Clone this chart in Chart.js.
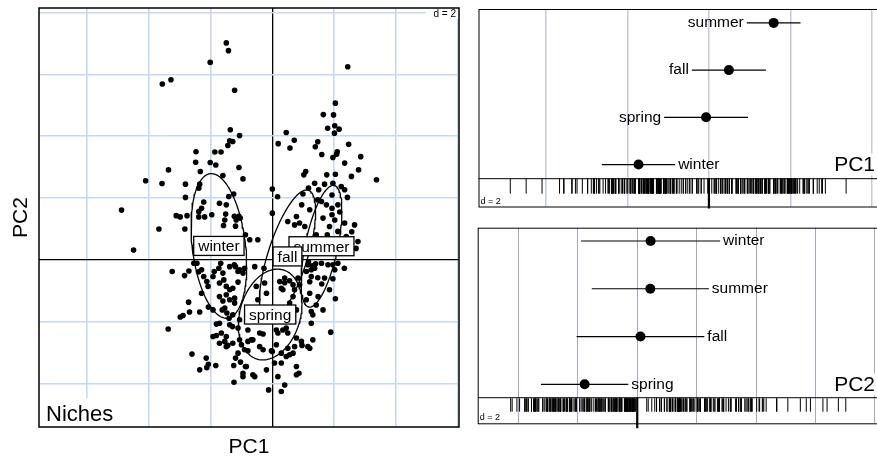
<!DOCTYPE html>
<html>
<head>
<meta charset="utf-8">
<script src="https://cdn.jsdelivr.net/npm/chart.js@4/dist/chart.umd.min.js"></script>
<style>
html,body{margin:0;padding:0;background:#fff;overflow:hidden;width:877px;height:460px}
canvas{position:absolute}
#niche{left:0;top:0}
#pc1{left:470px;top:0}
#pc2{left:470px;top:215px}
</style>
</head>
<body>
<canvas id="niche" width="470" height="460"></canvas>
<canvas id="pc1" width="440" height="215"></canvas>
<canvas id="pc2" width="440" height="245"></canvas>
<script>
// season classes: mean and sd on each axis, plus PC1/PC2 correlation (ellipses)
var seasons = ['winter', 'spring', 'summer', 'fall'];
var pc1Mean = [-1.73, -0.07, 1.59, 0.49];
var pc1Sd   = [0.90, 1.03, 0.66, 0.91];
var pc2Mean = [0.45, -1.77, 0.44, 0.11];
var pc2Sd   = [2.34, 1.47, 1.97, 2.15];
var pcCor   = [-0.27, 0.23, 0.58, 0.68];

// grid every d = 2
var nicheTicksX = [-6, -4, -2, 0, 2, 4, 6];
var nicheTicksY = [-4, -2, 0, 2, 4, 6, 8];
var pc1Ticks = [-4, -2, 0, 2, 4];
var pc2Ticks = [-4, -2, 0, 2, 4, 6, 8];

// row order in the 1d panels, bottom to top
var pc1Rows = ['winter', 'spring', 'fall', 'summer'];
var pc2Rows = ['spring', 'fall', 'summer', 'winter'];

// site scores (PC1, PC2)
var siteScores = [
 [-1.49,7.02],[-1.42,6.77],[-2.01,6.39],[-3.56,5.69],[-3.28,5.83],[-1.22,5.49],[-1.36,4.21],[-1.06,4.02],
 [-1.28,3.83],[-1.38,3.85],[-1.44,3.70],[-2.47,3.50],[-1.86,3.49],[-1.66,3.49],[2.44,6.25],[2.04,5.07],
 [1.65,4.70],[1.98,4.69],[1.79,4.26],[2.02,4.34],[2.16,4.23],[2.01,4.10],[0.45,4.12],[0.19,3.76],
 [0.71,3.87],[0.57,3.62],[1.47,3.82],[1.39,3.66],[2.47,3.74],[1.60,3.41],[2.10,3.50],[2.08,3.42],
 [1.96,3.31],[2.86,3.34],[-2.48,3.16],[-2.01,3.15],[-1.83,3.07],[-1.08,2.99],[-3.36,2.91],[-2.33,2.86],
 [-0.95,2.62],[-4.10,2.56],[-3.57,2.47],[-2.81,2.45],[-2.35,2.45],[-1.60,2.73],[-1.25,2.13],[-2.38,2.32],
 [-2.81,2.02],[-2.22,1.87],[-1.71,1.83],[-1.49,1.78],[-4.88,1.61],[-2.29,1.67],[-2.38,1.56],[-3.11,1.43],
 [-2.98,1.39],[-2.76,1.43],[-2.38,1.39],[-2.19,1.39],[-1.96,1.46],[-1.51,1.48],[-1.54,1.29],[-1.23,1.41],
 [-1.08,1.41],[-1.17,1.29],[-1.58,1.11],[-1.19,1.09],[-3.67,1.00],[-2.83,1.00],[-4.49,0.32],[-3.24,-0.38],
 [-2.70,-0.36],[-2.44,-0.11],[-2.29,-0.32],[-1.88,-0.38],[-1.73,-0.27],[-1.60,-0.43],[-1.23,-0.16],[-1.11,-0.38],
 [-0.95,-0.43],[2.34,3.13],[1.08,2.86],[1.02,2.75],[1.76,2.75],[2.04,2.77],[2.56,2.70],[2.79,2.91],
 [3.37,2.59],[1.37,2.48],[1.69,2.45],[1.96,2.48],[2.23,2.37],[0.00,2.29],[1.17,2.32],[1.50,2.27],
 [2.34,2.27],[0.17,2.04],[0.99,2.13],[1.93,2.10],[2.43,2.02],[1.59,1.89],[1.75,1.78],[1.93,1.67],
 [2.12,1.78],[0.78,1.40],[0.50,1.24],[0.72,1.13],[0.88,1.19],[1.05,1.08],[1.64,1.35],[1.93,1.46],
 [2.02,1.29],[2.34,1.19],[2.66,1.13],[1.85,1.08],[2.12,0.92],[1.78,0.81],[1.42,0.81],[-0.73,0.65],
 [-0.47,0.65],[2.39,0.75],[2.77,0.59],[1.15,-0.16],[1.26,-0.32],[1.10,-0.38],[1.37,-0.27],[1.80,-0.16],
 [2.02,-0.32],[-2.84,-0.51],[-2.12,-0.70],[-1.57,-0.65],[-1.11,-0.72],[-1.38,-0.97],[-1.71,-1.19],[-1.60,-1.33],
 [-1.22,-1.24],[-2.71,-1.37],[-2.07,-1.53],[-1.92,-1.62],[-2.35,-1.69],[-2.68,-1.69],[-2.89,-1.80],[-2.98,-1.85],
 [-1.54,-1.56],[-1.47,-1.72],[-1.40,-1.89],[-1.29,-2.16],[-1.81,-2.08],[-3.37,-2.24],[-1.81,-2.45],[-1.65,-2.37],
 [-1.49,-2.48],[-1.54,-2.64],[-1.44,-2.77],[-1.00,-2.75],[-0.90,-2.91],[-1.11,-3.02],[-2.60,-3.05],[-2.14,-3.18],
 [-1.19,-3.18],[-1.03,-3.31],[-2.07,-3.38],[-2.12,-3.49],[-1.83,-3.42],[-2.35,-3.56],[-1.25,-3.42],[-0.87,-3.45],
 [-0.95,-3.67],[-1.24,-3.96],[-0.47,-1.29],[0.40,-0.59],[0.29,-0.92],[0.72,-0.97],[0.83,-0.59],[1.26,-0.54],
 [1.69,-0.59],[1.96,-0.61],[2.04,-1.26],[1.10,-1.29],[1.42,-1.46],[1.64,-1.62],[1.26,-1.67],[1.26,-2.05],
 [1.89,-2.34],[-0.30,-2.40],[-0.68,-2.59],[-0.79,-2.64],[-0.41,-2.81],[0.18,-2.37],[0.34,-2.27],[0.50,-2.37],
 [0.78,-2.53],[0.96,-2.77],[1.15,-2.81],[0.72,-2.81],[0.13,-2.75],[0.50,-2.86],[0.29,-3.02],[0.67,-3.02],
 [-0.03,-2.94],[0.45,-3.13],[-0.79,-2.94],[0.29,-3.34],[0.07,-3.34],[0.78,-3.45],[-0.19,-3.56],[-0.63,-3.72],
 [-0.84,-3.45],[0.78,-3.72],[0.18,-3.78],[0.40,-4.05],[0.29,-4.26],[-0.12,-4.21],[0.40,-0.74],[0.56,-0.68],
 [0.88,-0.81],[1.21,-0.71],[1.47,-0.58],[1.60,-0.78],[1.17,-0.06],[1.30,-0.19],[1.40,-0.13],[0.00,1.51],
 [1.47,1.94],[2.18,1.55],[1.82,0.65],[2.31,0.49],[2.57,0.91],[1.21,1.62],[0.95,1.78],[2.71,0.37],
 [-0.52,-0.86],[-0.25,-0.75],[-0.19,-1.08],[0.24,-0.70],[0.34,-0.97],[0.67,-0.81],[0.67,-1.19],[0.56,-1.40],
 [0.78,-1.62],[0.45,-2.21],[0.13,-2.27],[-0.41,-2.37],[-0.79,-2.27],[-1.06,-1.94],[-1.28,-1.78],[-1.11,-2.21],
 [-0.63,-2.59],[-0.30,-2.91],[0.00,-2.97],[-0.57,-3.78],[-0.95,-3.78],[1.59,-0.11],[1.96,-0.16],[2.12,-0.11],
 [2.33,-0.27],[1.85,-0.97],[1.48,-1.19],[1.21,-1.08],[1.31,-1.78],[0.94,-2.64],[1.21,-2.86],[1.31,-2.59],
 [0.86,-3.67],[0.56,-3.07],[-2.29,-1.08],[-2.08,-0.86],[-1.71,-0.75],[-1.49,-0.86],[-1.28,-0.92],[-1.49,-1.13],
 [-1.38,-1.29],[-1.22,-1.40],[-1.62,-1.62],[-1.71,-2.05],[-1.38,-2.10],[-1.92,-2.48],[-1.71,-2.70],[-1.49,-2.81],
 [-1.28,-2.70],[-1.06,-2.59],[-1.04,1.35],[-1.41,2.05],[-2.39,-0.39],[-2.22,-0.54],[-1.92,-0.54],[-1.67,-0.11],
 [-1.38,-0.22],[-1.19,-0.22],[-1.06,-0.32],[-0.90,-0.27],[-0.57,-0.22],[-0.27,-0.27],[-2.54,-0.11],[-0.87,0.81]
];

var FONT = '"Liberation Sans", Arial, sans-serif';
Chart.defaults.font.family = FONT;

function ellipse(i) {
  var pts = [], r = pcCor[i];
  for (var k = 0; k <= 120; k++) {
    var t = k / 120 * 2 * Math.PI;
    pts.push({x: pc1Mean[i] + pc1Sd[i] * Math.cos(t),
              y: pc2Mean[i] + pc2Sd[i] * (r * Math.cos(t) + Math.sqrt(1 - r * r) * Math.sin(t))});
  }
  return pts;
}

function fixedTicks(arr) {
  return function(scale) { scale.ticks = arr.map(function(v){ return {value: v}; }); };
}

// ---------- left: niches ----------
var nichePlugin = {
  id: 'nicheDecor',
  afterDatasetsDraw: function(chart) {
    var ctx = chart.ctx, a = chart.chartArea, x = chart.scales.x, y = chart.scales.y;
    ctx.save();
    ctx.font = '15.5px ' + FONT;
    ctx.textAlign = 'center';
    ctx.textBaseline = 'middle';
    seasons.forEach(function(s, i) {
      var px = x.getPixelForValue(pc1Mean[i]), py = y.getPixelForValue(pc2Mean[i]);
      var w = ctx.measureText(s).width + 9, h = 19;
      ctx.fillStyle = '#fff';
      ctx.fillRect(px - w / 2, py - h / 2, w, h);
      ctx.strokeStyle = '#000';
      ctx.lineWidth = 1.3;
      ctx.strokeRect(px - w / 2, py - h / 2, w, h);
      ctx.fillStyle = '#000';
      ctx.fillText(s, px, py + 1);
    });
    // d = 2
    ctx.fillStyle = '#fff';
    ctx.fillRect(a.right - 33, a.top, 33, 11);
    ctx.fillStyle = '#000';
    ctx.font = '10px ' + FONT;
    ctx.textAlign = 'right';
    ctx.fillText('d = 2', a.right - 3, a.top + 6);
    // Niches
    ctx.fillStyle = '#fff';
    ctx.fillRect(a.left, a.bottom - 29, 82, 29);
    ctx.fillStyle = '#000';
    ctx.font = '22px ' + FONT;
    ctx.textAlign = 'left';
    ctx.textBaseline = 'alphabetic';
    ctx.fillText('Niches', a.left + 7, a.bottom - 6);
    // frame
    ctx.strokeStyle = '#000';
    ctx.lineWidth = 1.5;
    ctx.strokeRect(a.left, a.top, a.right - a.left, a.bottom - a.top);
    // axis titles
    ctx.font = '21px ' + FONT;
    ctx.textAlign = 'center';
    ctx.textBaseline = 'middle';
    ctx.fillText('PC1', (a.left + a.right) / 2, 447);
    ctx.translate(21, (a.top + a.bottom) / 2);
    ctx.rotate(-Math.PI / 2);
    ctx.fillText('PC2', 0, 0);
    ctx.restore();
  }
};

function gridColor(c) { return c.tick && c.tick.value === 0 ? '#000' : '#c6d8f2'; }
function gridWidth(c) { return c.tick && c.tick.value === 0 ? 1.3 : 1.6; }

new Chart(document.getElementById('niche'), {
  type: 'scatter',
  data: {
    datasets: [{
      data: siteScores.map(function(p){ return {x: p[0], y: p[1]}; }),
      pointRadius: 2.8, pointHoverRadius: 2.8,
      pointBackgroundColor: '#000', pointBorderWidth: 0
    }].concat(seasons.map(function(s, i) {
      return {data: ellipse(i), showLine: true, borderColor: '#000', borderWidth: 1.3,
              pointRadius: 0, pointHoverRadius: 0, fill: false, tension: 0};
    }))
  },
  options: {
    responsive: false, animation: false, devicePixelRatio: 1, events: [],
    layout: {padding: {left: 39, top: 8, right: 11, bottom: 33}},
    plugins: {legend: {display: false}, tooltip: {enabled: false}},
    scales: {
      x: {type: 'linear', min: -7.55, max: 6.04, afterBuildTicks: fixedTicks(nicheTicksX),
          ticks: {display: false}, border: {display: false},
          grid: {drawTicks: false, color: gridColor, lineWidth: gridWidth}},
      y: {type: 'linear', min: -5.41, max: 8.15, afterBuildTicks: fixedTicks(nicheTicksY),
          ticks: {display: false}, border: {display: false},
          grid: {drawTicks: false, color: gridColor, lineWidth: gridWidth}}
    }
  },
  plugins: [nichePlugin]
});

// ---------- right: 1d panels ----------
function makePanel(id, name, means, sds, rows, scores, ticks, side, lay) {
  var datasets = [];
  rows.forEach(function(s, k) {
    var i = seasons.indexOf(s);
    datasets.push({data: [{x: means[i] - sds[i], y: k + 1}, {x: means[i] + sds[i], y: k + 1}],
                   showLine: true, borderColor: '#000', borderWidth: 1.2, pointRadius: 0, pointHoverRadius: 0});
  });
  datasets.push({data: rows.map(function(s, k){ return {x: means[seasons.indexOf(s)], y: k + 1}; }),
                 pointRadius: 5, pointHoverRadius: 5, pointBackgroundColor: '#000', pointBorderWidth: 0});
  datasets.push({data: scores.map(function(v){ return {x: v, y: lay.rugY}; }),
                 pointStyle: 'line', pointRotation: 90, pointRadius: lay.rugR, pointHoverRadius: lay.rugR,
                 pointBorderColor: '#000', pointBorderWidth: 1});
  datasets.push({data: [{x: 0, y: lay.sepY}, {x: 0, y: lay.tickEnd}], showLine: true, clip: false,
                 borderColor: '#000', borderWidth: 2.2, pointRadius: 0, pointHoverRadius: 0});

  var plugin = {
    id: 'panel_' + id,
    afterDatasetsDraw: function(chart) {
      var ctx = chart.ctx, a = chart.chartArea, x = chart.scales.x, y = chart.scales.y;
      ctx.save();
      var sy = y.getPixelForValue(lay.sepY);
      ctx.strokeStyle = '#000';
      ctx.lineWidth = 1;
      ctx.beginPath();
      ctx.moveTo(a.left, sy); ctx.lineTo(a.right, sy);
      ctx.stroke();
      ctx.strokeRect(a.left + 0.5, a.top + 0.5, a.right - a.left, a.bottom - a.top);
      // big axis name
      ctx.font = '21px ' + FONT;
      ctx.textAlign = 'right';
      ctx.textBaseline = 'middle';
      var ny = y.getPixelForValue(1), nw = ctx.measureText(name).width;
      ctx.fillStyle = '#fff';
      ctx.fillRect(875 - 470 - nw - 2, ny - 11, nw + 4, 22);
      ctx.fillStyle = '#000';
      ctx.fillText(name, 875 - 470, ny + 1);
      // class labels
      ctx.font = '15.5px ' + FONT;
      rows.forEach(function(s, k) {
        var i = seasons.indexOf(s), py = y.getPixelForValue(k + 1);
        if (side[s] === 'left') {
          ctx.textAlign = 'right';
          ctx.fillText(s, x.getPixelForValue(means[i] - sds[i]) - 3, py);
        } else {
          ctx.textAlign = 'left';
          ctx.fillText(s, x.getPixelForValue(means[i] + sds[i]) + 3, py);
        }
      });
      ctx.font = '9px ' + FONT;
      ctx.textAlign = 'left';
      ctx.textBaseline = 'alphabetic';
      ctx.fillText('d = 2', a.left + 2, a.bottom - 3);
      ctx.restore();
    }
  };

  new Chart(document.getElementById(id), {
    type: 'scatter',
    data: {datasets: datasets},
    options: {
      responsive: false, animation: false, devicePixelRatio: 1, events: [],
      layout: {padding: lay.pad},
      plugins: {legend: {display: false}, tooltip: {enabled: false}},
      scales: {
        x: {type: 'linear', min: lay.xMin, max: lay.xMax, afterBuildTicks: fixedTicks(ticks),
            ticks: {display: false}, border: {display: false},
            grid: {drawTicks: false, color: lay.gridColor, lineWidth: lay.gridWidth}},
        y: {type: 'linear', min: lay.yMin, max: lay.yMax, display: false}
      }
    },
    plugins: [plugin]
  });
}

makePanel('pc1', 'PC1', pc1Mean, pc1Sd, pc1Rows,
  siteScores.map(function(p){ return p[0]; }), pc1Ticks,
  {winter: 'right', spring: 'left', fall: 'left', summer: 'left'},
  {pad: {left: 8, top: 9, right: 10, bottom: 7}, xMin: -5.661, xMax: 4.694, yMin: 0.111, yMax: 4.294,
   sepY: 0.70, rugY: 0.542, rugR: 7.5, tickEnd: 0.069, gridColor: '#c3cad8', gridWidth: 1.5});

makePanel('pc2', 'PC2', pc2Mean, pc2Sd, pc2Rows,
  siteScores.map(function(p){ return p[1]; }), pc2Ticks,
  {winter: 'right', spring: 'right', fall: 'right', summer: 'right'},
  {pad: {left: 7.7, top: 12.7, right: 10, bottom: 36.7}, xMin: -5.37, xMax: 8.845, yMin: 0.184, yMax: 4.278,
   sepY: 0.7195, rugY: 0.567, rugR: 6.7, tickEnd: 0.079, gridColor: '#a3aabb', gridWidth: 1});
</script>
</body>
</html>
